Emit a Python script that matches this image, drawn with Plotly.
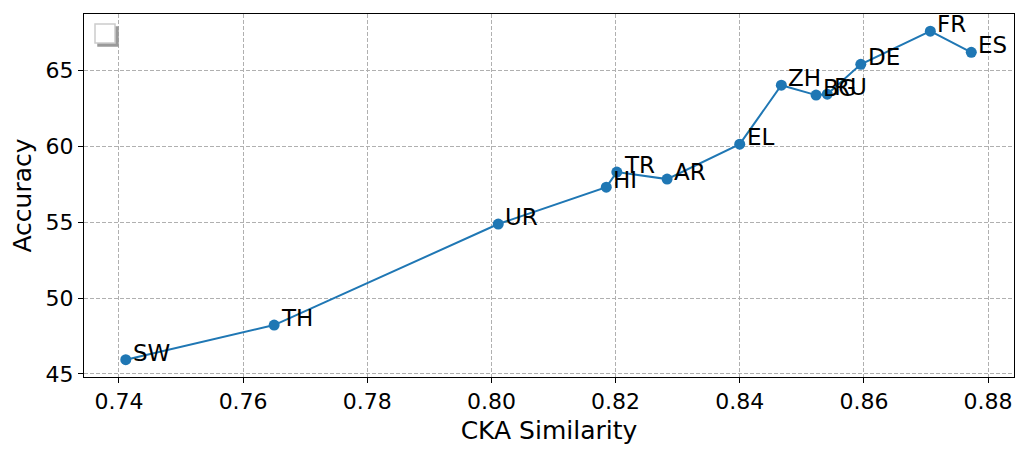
import plotly.graph_objects as go

fnt = "DejaVu Sans"
blue = "#1f77b4"

langs = ["SW", "TH", "UR", "HI", "TR", "AR", "EL", "ZH", "BG", "RU", "DE", "FR", "ES"]
cka = [0.7411, 0.7650, 0.8011, 0.8185, 0.8202, 0.8283, 0.8400, 0.8467, 0.8523, 0.8541, 0.8595, 0.8707, 0.8773]
acc = [45.94, 48.22, 54.87, 57.30, 58.29, 57.83, 60.13, 64.01, 63.36, 63.42, 65.39, 67.57, 66.18]

x_ticks = [0.74, 0.76, 0.78, 0.80, 0.82, 0.84, 0.86, 0.88]
y_ticks = [45, 50, 55, 60, 65]

fig = go.Figure(
    data=[
        go.Scatter(
            x=cka, y=acc, mode="lines+markers",
            line=dict(color=blue, width=2),
            marker=dict(color=blue, size=11),
            showlegend=False,
        )
    ]
)

for name, xv, yv in zip(langs, cka, acc):
    fig.add_annotation(
        x=xv, y=yv, text=name, showarrow=False,
        xanchor="left", yanchor="middle", xshift=5, yshift=7,
        font=dict(size=23, family=fnt, color="black"),
    )

axis_common = dict(
    showline=True, linecolor="black", linewidth=1, mirror=True,
    ticks="outside", ticklen=5, tickcolor="black", tickwidth=1,
    showgrid=True, gridcolor="#b0b0b0", griddash="4px,2px", gridwidth=1,
    zeroline=False, automargin=False,
    tickfont=dict(size=22, family=fnt, color="black"),
)

fig.update_xaxes(
    range=[0.73437, 0.88418], tickvals=x_ticks, ticktext=[f"{v:.2f}" for v in x_ticks],
    title=dict(text="CKA Similarity", font=dict(size=25, family=fnt, color="black"), standoff=8),
    **axis_common,
)
fig.update_yaxes(
    range=[44.80, 68.70], tickvals=y_ticks,
    title=dict(text="Accuracy", font=dict(size=25, family=fnt, color="black"), standoff=8),
    **axis_common,
)

# empty legend box (shadow + frame)
for dx, dy, fill, border in [(3, -3, "#9a9a9a", "#9a9a9a"), (0, 0, "white", "#cccccc")]:
    fig.add_shape(
        type="rect", xref="paper", yref="paper",
        xsizemode="pixel", ysizemode="pixel", xanchor=0, yanchor=1,
        x0=11 + dx, x1=31 + dx, y0=-10 + dy, y1=-29 + dy,
        fillcolor=fill, line=dict(color=border, width=1.5),
    )

# page body adds ~8px offset, so shrink and shift the figure accordingly
fig.update_layout(
    width=1018, height=446,
    margin=dict(l=76, r=12, t=6, b=77),
    paper_bgcolor="white", plot_bgcolor="white",
    font=dict(family=fnt, color="black"),
)

fig.write_html("out.html")
